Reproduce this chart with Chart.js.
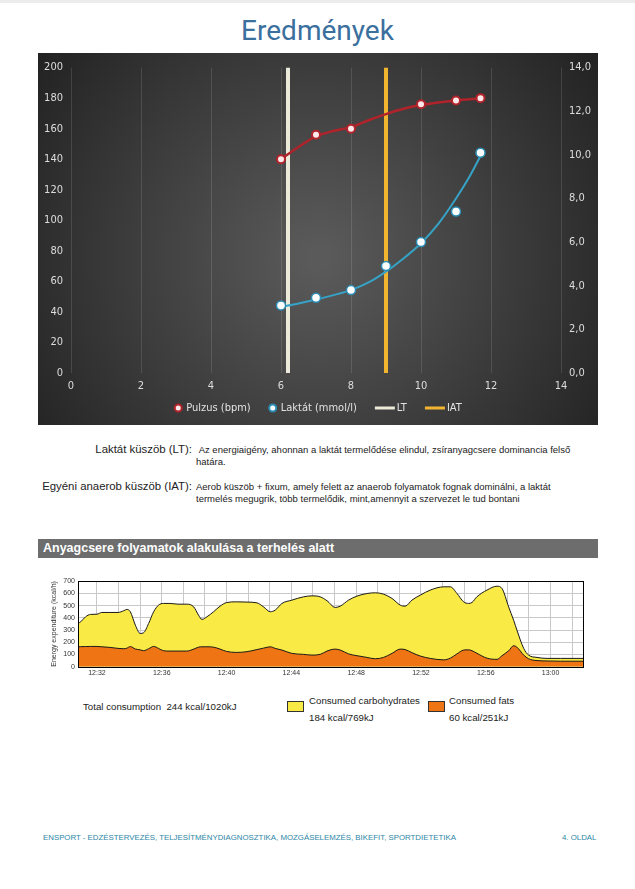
<!DOCTYPE html>
<html lang="hu">
<head>
<meta charset="utf-8">
<title>Eredmények</title>
<script src="https://cdn.jsdelivr.net/npm/chart.js@4.4.1/dist/chart.umd.min.js"></script>
<style>
  html, body { margin: 0; padding: 0; background: #fff; }
  body { width: 635px; height: 889px; position: relative; overflow: hidden; font-family: "Liberation Sans", Arial, sans-serif; color: #222; }
  .strip { position: absolute; left: 0; top: 0; width: 635px; height: 3px; background: #ececec; }
  h1 { position: absolute; left: 0; top: 14px; width: 635px; margin: 0; text-align: center; font: 400 28px Roboto, sans-serif; color: #3a6f9e; line-height: 34px; }
  canvas { position: absolute; display: block; }
  #resultChart { left: 38px; top: 53px; }
  #energyChart { left: 40px; top: 574px; }
  .lbl { position: absolute; width: 200px; text-align: right; font-size: 11.4px; line-height: 13px; }
  .txt { position: absolute; left: 196px; font-size: 9.5px; line-height: 12.5px; white-space: nowrap; }
  .bar { position: absolute; left: 38px; top: 539px; width: 560px; height: 19px; background: #6d6d6d; }
  .bar span { position: absolute; left: 5px; top: 2px; font: bold 12.5px "Liberation Sans", Arial, sans-serif; color: #fff; white-space: nowrap; }
  .leg { position: absolute; font-size: 9.7px; line-height: 12px; color: #222; white-space: nowrap; }
  .box { position: absolute; width: 15px; height: 9px; border: 1px solid #333; }
  .foot { position: absolute; top: 833px; font-size: 7.85px; line-height: 10px; color: #2c86a6; white-space: nowrap; }
</style>
</head>
<body>
<div class="strip"></div>
<h1>Eredmények</h1>
<canvas id="resultChart" width="560" height="372"></canvas>

<div class="lbl" style="left:-8px; top:443px;">Laktát küszöb (LT):</div>
<div class="txt" style="top:443.5px;">&nbsp;Az energiaigény, ahonnan a laktát termelődése elindul, zsíranyagcsere dominancia felső<br>határa.</div>
<div class="lbl" style="left:-8px; top:480px;">Egyéni anaerob küszöb (IAT):</div>
<div class="txt" style="top:480.5px;">Aerob küszöb + fixum, amely felett az anaerob folyamatok fognak dominálni, a laktát<br>termelés megugrik, több termelődik, mint,amennyit a szervezet le tud bontani</div>

<div class="bar"><span>Anyagcsere folyamatok alakulása a terhelés alatt</span></div>
<canvas id="energyChart" width="550" height="112"></canvas>

<div class="leg" style="left:83px; top:701px;">Total consumption&nbsp; 244 kcal/1020kJ</div>
<div class="box" style="left:287px; top:701px; background:#f9ea45;"></div>
<div class="leg" style="left:309px; top:695px;">Consumed carbohydrates</div>
<div class="leg" style="left:309px; top:712px;">184 kcal/769kJ</div>
<div class="box" style="left:428px; top:701px; background:#ef7414;"></div>
<div class="leg" style="left:449px; top:695px;">Consumed fats</div>
<div class="leg" style="left:449px; top:712px;">60 kcal/251kJ</div>

<div class="foot" style="left:43px;">ENSPORT - EDZÉSTERVEZÉS, TELJESÍTMÉNYDIAGNOSZTIKA, MOZGÁSELEMZÉS, BIKEFIT, SPORTDIETETIKA</div>
<div class="foot" style="left:562px;">4. OLDAL</div>

<script>
// ---- top chart: pulse / lactate vs speed ----
const pulseX = [6, 7, 8, 10, 11, 11.7];
const pulseBpm = [140, 156, 160, 176, 178.5, 180];
const lactateX = [6, 7, 8, 9, 10, 11, 11.7];
const lactateMmol = [3.1, 3.45, 3.8, 4.9, 6.0, 7.4, 10.1];
// fitted curves
const pulseTrendX = [6, 6.5, 7, 7.5, 8, 8.5, 9, 9.5, 10, 10.5, 11, 11.7];
const pulseTrend = [140, 148, 155, 158.5, 161, 165.5, 169.5, 173, 175.5, 177.2, 178.5, 179.8];
const lactateTrendX = [6, 6.5, 7, 7.5, 8, 8.5, 9, 9.5, 10, 10.5, 11, 11.35, 11.7];
const lactateTrend = [3.03, 3.19, 3.37, 3.57, 3.8, 4.15, 4.65, 5.25, 5.95, 6.85, 8.0, 8.9, 9.95];
const ltValue = 6.2;
const iatValue = 9.0;
const legendNames = ['Pulzus (bpm)', 'Laktát (mmol/l)', 'LT', 'IAT'];

// ---- bottom chart: energy expenditure (minutes after 12:00) ----
const timeMin = [30.83, 31.0, 31.3, 31.6, 32.0, 32.3, 32.8, 33.3, 33.65, 33.85, 34.06, 34.37, 34.67, 34.88, 35.19, 35.5, 35.8, 36.1, 36.5, 37.0, 37.55, 37.97, 38.27, 38.48, 38.79, 39.2, 39.6, 40.0, 40.6, 41.26, 41.87, 42.28, 42.7, 43.0, 43.42, 44.03, 44.75, 45.27, 45.78, 46.2, 46.71, 47.02, 47.53, 48.05, 48.66, 49.18, 49.69, 50.21, 50.72, 51.03, 51.44, 51.96, 52.57, 53.4, 53.81, 54.22, 54.63, 54.94, 55.15, 55.45, 56.07, 56.69, 57.0, 57.41, 57.72, 57.92, 58.34, 58.64, 59.16, 59.78, 60.6, 62.0];
const totalKcal = [354, 368, 409, 428, 430, 444, 444, 444, 458, 469, 450, 340, 272, 278, 354, 450, 504, 518, 518, 512, 512, 490, 422, 387, 409, 450, 496, 525, 531, 529, 523, 490, 450, 463, 518, 545, 572, 580, 572, 540, 485, 496, 545, 578, 599, 605, 594, 559, 504, 496, 545, 586, 627, 654, 654, 600, 531, 518, 526, 572, 627, 659, 640, 490, 380, 300, 150, 95, 76, 68, 68, 68];
const fatKcal = [163, 164, 165, 166, 166, 163, 158, 150, 147, 152, 165, 145, 138, 131, 147, 166, 150, 131, 128, 128, 128, 144, 160, 163, 163, 160, 144, 125, 117, 123, 140, 152, 163, 150, 136, 109, 101, 95, 101, 128, 144, 136, 105, 90, 76, 65, 76, 109, 144, 140, 115, 87, 68, 56, 70, 105, 136, 138, 131, 110, 70, 60, 90, 130, 172, 160, 95, 65, 50, 47, 45, 45];
const timeLabels = ['12:32', '12:36', '12:40', '12:44', '12:48', '12:52', '12:56', '13:00'];
const gridStep = 4 / 3; // a grid line every 80 s

const zip = (xs, ys) => xs.map((x, i) => ({ x: x, y: ys[i] }));
const chartFont = '"DejaVu Sans Condensed", "Liberation Sans Narrow", Roboto, sans-serif';

const darkBackground = {
  id: 'darkBackground',
  beforeDraw(chart) {
    const { ctx, width, height } = chart;
    const g = ctx.createRadialGradient(width * 0.5, height * 0.55, 10, width * 0.5, height * 0.55, width * 0.62);
    g.addColorStop(0, '#5a5a5a');
    g.addColorStop(1, '#222222');
    ctx.save();
    ctx.fillStyle = g;
    ctx.fillRect(0, 0, width, height);
    ctx.restore();
  }
};

const bottomLegend = {
  id: 'bottomLegend',
  afterDraw(chart) {
    const ctx = chart.ctx;
    const y = 355;
    const items = [
      { type: 'point', fill: '#fbe9ea', stroke: '#b3232b' },
      { type: 'point', fill: '#ffffff', stroke: '#2b8db5' },
      { type: 'line', stroke: '#ecebd9' },
      { type: 'line', stroke: '#f2b530' }
    ];
    ctx.save();
    ctx.font = '11px ' + chartFont;
    ctx.textBaseline = 'middle';
    const widths = items.map((it, i) => (it.type === 'point' ? 12 : 22) + ctx.measureText(legendNames[i]).width);
    const gap = 18;
    const total = widths.reduce((a, b) => a + b, 0) + gap * (items.length - 1);
    let x = (chart.width - total) / 2;
    items.forEach((it, i) => {
      if (it.type === 'point') {
        ctx.beginPath();
        ctx.arc(x + 4, y, 3.5, 0, Math.PI * 2);
        ctx.fillStyle = it.fill;
        ctx.fill();
        ctx.lineWidth = 2;
        ctx.strokeStyle = it.stroke;
        ctx.stroke();
        x += 12;
      } else {
        ctx.beginPath();
        ctx.moveTo(x, y);
        ctx.lineTo(x + 20, y);
        ctx.lineWidth = 3;
        ctx.strokeStyle = it.stroke;
        ctx.stroke();
        x += 22;
      }
      ctx.fillStyle = '#e2e2e2';
      ctx.fillText(legendNames[i], x, y);
      x += ctx.measureText(legendNames[i]).width + gap;
    });
    ctx.restore();
  }
};

new Chart(document.getElementById('resultChart').getContext('2d'), {
  type: 'scatter',
  data: {
    datasets: [
      {
        label: legendNames[0], data: zip(pulseX, pulseBpm), yAxisID: 'y', showLine: false,
        pointRadius: 4, pointBackgroundColor: '#fbe9ea', pointBorderColor: '#b3232b', pointBorderWidth: 2
      },
      {
        label: legendNames[1], data: zip(lactateX, lactateMmol), yAxisID: 'y2', showLine: false,
        pointRadius: 4.5, pointBackgroundColor: '#ffffff', pointBorderColor: '#2b8db5', pointBorderWidth: 1.5
      },
      {
        label: 'pulse trend', data: zip(pulseTrendX, pulseTrend), yAxisID: 'y', showLine: true,
        borderColor: '#b0232a', borderWidth: 2.5, pointRadius: 0, cubicInterpolationMode: 'monotone'
      },
      {
        label: 'lactate trend', data: zip(lactateTrendX, lactateTrend), yAxisID: 'y2', showLine: true,
        borderColor: '#36a3c6', borderWidth: 2, pointRadius: 0, cubicInterpolationMode: 'monotone'
      },
      {
        label: legendNames[3], data: [{ x: iatValue, y: 0 }, { x: iatValue, y: 200 }], yAxisID: 'y', showLine: true,
        borderColor: '#f2b530', borderWidth: 4, pointRadius: 0
      },
      {
        label: legendNames[2], data: [{ x: ltValue, y: 0 }, { x: ltValue, y: 200 }], yAxisID: 'y', showLine: true,
        borderColor: '#ecebd9', borderWidth: 4, pointRadius: 0
      }
    ]
  },
  options: {
    responsive: false,
    animation: false,
    layout: { padding: { top: 11, bottom: 30 } },
    plugins: { legend: { display: false }, tooltip: { enabled: false } },
    scales: {
      x: {
        type: 'linear', min: 0, max: 14,
        ticks: { stepSize: 2, color: '#dddddd', font: { family: chartFont, size: 11 }, padding: 7 },
        grid: { color: 'rgba(255,255,255,0.12)', drawTicks: false },
        border: { display: false },
        afterFit(scale) { scale.height = 22; }
      },
      y: {
        position: 'left', min: 0, max: 200,
        ticks: { stepSize: 20, color: '#dddddd', font: { family: chartFont, size: 11 }, padding: 8 },
        grid: { display: false, drawTicks: false },
        border: { display: false },
        afterFit(scale) { scale.width = 33; }
      },
      y2: {
        position: 'right', min: 0, max: 14,
        ticks: {
          stepSize: 2, color: '#dddddd', font: { family: chartFont, size: 11 }, padding: 8,
          callback: v => v.toFixed(1).replace('.', ',')
        },
        grid: { display: false, drawTicks: false },
        border: { display: false },
        afterFit(scale) { scale.width = 37; }
      }
    }
  },
  plugins: [darkBackground, bottomLegend]
});

const plotFrame = {
  id: 'plotFrame',
  afterDatasetsDraw(chart) {
    const a = chart.chartArea;
    const ctx = chart.ctx;
    ctx.save();
    ctx.strokeStyle = '#000';
    ctx.lineWidth = 1;
    ctx.strokeRect(Math.round(a.left) + 0.5, Math.round(a.top) + 0.5, Math.round(a.right - a.left), Math.round(a.bottom - a.top));
    ctx.restore();
  }
};

new Chart(document.getElementById('energyChart').getContext('2d'), {
  type: 'line',
  data: {
    datasets: [
      {
        label: 'Consumed fats', data: zip(timeMin, fatKcal),
        borderColor: '#1a1a1a', borderWidth: 1, backgroundColor: '#ef7414', fill: 'origin',
        pointRadius: 0, cubicInterpolationMode: 'monotone'
      },
      {
        label: 'Total', data: zip(timeMin, totalKcal),
        borderColor: '#1a1a1a', borderWidth: 1, backgroundColor: '#f9ea45', fill: 'origin',
        pointRadius: 0, cubicInterpolationMode: 'monotone'
      }
    ]
  },
  options: {
    responsive: false,
    animation: false,
    layout: { padding: { top: 6, right: 7, left: 10 } },
    plugins: { legend: { display: false }, tooltip: { enabled: false } },
    scales: {
      x: {
        type: 'linear', min: 30.83, max: 62,
        afterBuildTicks(scale) {
          const t = [];
          for (let v = 32; v <= 62 + 1e-6; v += gridStep) t.push({ value: v });
          scale.ticks = t;
        },
        ticks: {
          color: '#333', font: { family: '"Liberation Sans", Arial, sans-serif', size: 7 }, padding: 2,
          autoSkip: false, maxRotation: 0,
          callback(v) {
            const k = (v - 32) / 4;
            if (Math.abs(k - Math.round(k)) > 0.01) return '';
            return timeLabels[Math.round(k)];
          }
        },
        grid: { color: '#c8c8c8', drawTicks: false },
        border: { display: false },
        afterFit(scale) { scale.height = 19.3; }
      },
      y: {
        min: 0, max: 700,
        ticks: { stepSize: 100, color: '#333', font: { family: '"Liberation Sans", Arial, sans-serif', size: 7 }, padding: 3 },
        grid: { color: '#c8c8c8', drawTicks: false },
        border: { display: false },
        title: { display: true, text: 'Energy expenditure (kcal/h)', color: '#333', font: { family: '"Liberation Sans", Arial, sans-serif', size: 7 }, padding: 0 },
        afterFit(scale) { scale.width = 28; }
      }
    }
  },
  plugins: [plotFrame]
});
</script>
</body>
</html>
